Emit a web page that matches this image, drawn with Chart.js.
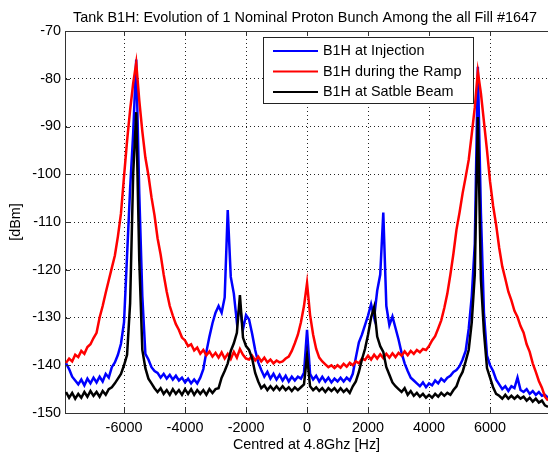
<!DOCTYPE html>
<html><head><meta charset="utf-8">
<script src="https://cdn.jsdelivr.net/npm/chart.js@4.4.1/dist/chart.umd.min.js"></script>
<style>html,body{margin:0;padding:0;background:#fff;overflow:hidden;}</style>
</head><body>
<canvas id="c" width="548" height="454"></canvas>
<script>
const chartTitle = "Tank B1H: Evolution of 1 Nominal Proton Bunch Among the all Fill #1647";
const xAxisTitle = "Centred at 4.8Ghz [Hz]";
const yAxisTitle = "[dBm]";
const seriesNames = ["B1H at Injection", "B1H during the Ramp", "B1H at Satble Beam"];
const seriesColors = ["#0000ff", "#ff0000", "#000000"];
const xTicks = [-6000, -4000, -2000, 0, 2000, 4000, 6000];
const yTicks = [-150, -140, -130, -120, -110, -100, -90, -80, -70];

const freqHz = [
 -7900,-7800,-7700,-7600,-7500,-7400,-7300,-7200,-7100,-7000,
 -6900,-6800,-6700,-6600,-6500,-6400,-6300,-6200,-6100,-6000,
 -5900,-5800,-5700,-5600,-5500,-5400,-5300,-5200,-5100,-5000,
 -4900,-4800,-4700,-4600,-4500,-4400,-4300,-4200,-4100,-4000,
 -3900,-3800,-3700,-3600,-3500,-3400,-3300,-3200,-3100,-3000,
 -2900,-2800,-2700,-2600,-2500,-2400,-2300,-2200,-2100,-2000,
 -1900,-1800,-1700,-1600,-1500,-1400,-1300,-1200,-1100,-1000,
 -900,-800,-700,-600,-500,-400,-300,-200,-100,0,
 100,200,300,400,500,600,700,800,900,1000,
 1100,1200,1300,1400,1500,1600,1700,1800,1900,2000,
 2100,2200,2300,2400,2500,2600,2700,2800,2900,3000,
 3100,3200,3300,3400,3500,3600,3700,3800,3900,4000,
 4100,4200,4300,4400,4500,4600,4700,4800,4900,5000,
 5100,5200,5300,5400,5500,5600,5700,5800,5900,6000,
 6100,6200,6300,6400,6500,6600,6700,6800,6900,7000,
 7100,7200,7300,7400,7500,7600,7700,7800,7900
];

const injection = [
 -139.6,-140.8,-142.4,-143.2,-144.0,-143.0,-144.2,-142.8,-143.8,-142.6,
 -143.6,-142.4,-143.4,-141.8,-142.6,-140.4,-139.4,-137.8,-135.5,-131.0,
 -117.0,-103.0,-91.5,-76.0,-104.0,-125.5,-137.6,-138.8,-140.4,-141.2,
 -141.6,-142.6,-141.8,-142.8,-142.0,-143.0,-142.2,-143.2,-142.6,-143.6,
 -142.8,-143.8,-143.0,-143.8,-142.6,-140.8,-137.2,-134.0,-131.2,-129.0,
 -127.6,-129.0,-125.8,-107.5,-121.5,-125.0,-131.0,-127.5,-132.5,-129.5,
 -130.4,-133.4,-136.8,-139.4,-141.0,-142.4,-141.4,-142.8,-141.8,-143.0,
 -142.0,-143.2,-142.2,-143.4,-142.4,-143.2,-142.4,-142.8,-141.6,-132.6,
 -141.8,-143.0,-142.2,-143.4,-142.4,-143.4,-142.6,-143.6,-142.8,-143.4,
 -142.6,-143.4,-142.6,-143.2,-141.8,-138.4,-135.2,-133.6,-131.6,-129.6,
 -127.2,-130.0,-124.4,-121.0,-108.0,-127.6,-131.6,-129.8,-132.2,-134.6,
 -137.4,-139.6,-141.2,-142.6,-143.2,-143.8,-144.4,-143.6,-144.6,-143.8,
 -144.2,-143.2,-143.8,-142.8,-143.4,-142.6,-142.2,-141.4,-141.0,-140.2,
 -138.8,-137.0,-132.4,-125.6,-114.5,-77.5,-108.0,-129.0,-138.0,-140.0,
 -141.2,-143.0,-144.0,-145.0,-144.4,-145.4,-144.4,-144.8,-142.6,-145.2,
 -145.6,-145.0,-146.0,-145.4,-146.2,-145.6,-146.4,-146.2,-146.8
];

const ramp = [
 -139.5,-138.6,-139.2,-137.8,-138.3,-137.0,-137.6,-136.2,-135.6,-134.3,
 -133.2,-130.0,-127.6,-124.8,-122.2,-119.6,-117.0,-113.0,-108.2,-100.5,
 -93.0,-86.5,-81.0,-76.7,-84.5,-91.0,-96.5,-100.2,-104.8,-108.6,
 -113.4,-116.8,-121.0,-124.6,-127.6,-129.6,-131.4,-132.6,-134.2,-134.8,
 -136.0,-135.6,-136.9,-136.3,-137.6,-136.8,-137.9,-137.1,-138.2,-137.4,
 -138.4,-137.3,-138.6,-137.6,-138.7,-137.2,-138.4,-136.6,-137.8,-138.6,
 -138.8,-138.0,-139.0,-138.2,-139.2,-138.4,-139.4,-138.8,-139.6,-139.0,
 -139.4,-139.2,-138.6,-138.2,-137.0,-135.4,-133.6,-131.0,-127.6,-122.8,
 -129.5,-133.6,-136.6,-138.4,-139.2,-139.8,-140.4,-140.0,-140.6,-140.0,
 -140.5,-139.7,-140.3,-139.5,-140.0,-139.2,-139.6,-138.6,-138.9,-138.0,
 -138.8,-137.8,-138.6,-137.7,-138.5,-137.6,-138.4,-137.5,-138.3,-137.4,
 -138.0,-137.1,-137.9,-137.0,-137.6,-136.8,-137.3,-136.6,-136.8,-136.0,
 -134.8,-133.9,-132.3,-130.6,-128.0,-125.0,-121.0,-116.6,-111.6,-108.0,
 -104.0,-100.6,-97.0,-91.6,-86.0,-78.5,-83.0,-89.0,-95.0,-101.5,
 -106.6,-110.6,-115.4,-119.3,-121.9,-124.6,-126.4,-128.6,-129.9,-131.8,
 -133.2,-135.6,-137.2,-139.6,-141.4,-143.3,-144.7,-146.6,-147.4
];

const stable = [
 -145.6,-146.8,-145.8,-147.0,-146.0,-146.8,-145.6,-146.6,-145.4,-146.4,
 -145.6,-146.6,-145.4,-146.2,-145.0,-144.6,-143.8,-142.8,-141.8,-140.0,
 -137.8,-127.0,-100.0,-87.0,-118.0,-136.8,-140.6,-142.8,-143.8,-144.8,
 -145.6,-144.8,-146.0,-145.2,-146.2,-145.0,-146.0,-145.2,-146.2,-145.0,
 -146.0,-145.0,-146.2,-145.2,-146.0,-145.2,-146.2,-145.0,-145.8,-145.0,
 -144.8,-142.6,-141.2,-139.6,-137.0,-135.4,-133.2,-125.3,-134.2,-136.0,
 -136.8,-138.6,-141.6,-143.4,-144.8,-144.2,-145.2,-144.4,-145.2,-144.4,
 -145.2,-144.4,-145.2,-144.6,-145.4,-144.6,-145.2,-144.6,-144.0,-138.0,
 -144.4,-145.2,-144.6,-145.4,-144.8,-145.6,-144.8,-145.4,-144.8,-145.6,
 -144.8,-145.6,-145.0,-145.8,-144.4,-143.4,-141.4,-138.8,-136.6,-133.6,
 -130.0,-127.8,-134.0,-136.0,-137.2,-140.4,-142.0,-143.6,-144.4,-145.0,
 -145.6,-144.8,-146.2,-145.4,-146.4,-145.8,-146.6,-146.0,-146.8,-146.2,
 -146.8,-146.0,-146.6,-145.8,-146.4,-145.8,-146.2,-145.2,-144.4,-142.6,
 -141.4,-139.2,-136.8,-131.0,-121.0,-88.0,-122.0,-133.0,-140.6,-142.6,
 -144.6,-146.0,-146.4,-147.0,-146.2,-147.0,-146.4,-147.0,-146.4,-147.0,
 -146.6,-147.4,-146.8,-147.6,-147.0,-147.8,-147.4,-148.4,-148.7
];

const FONT = '"Liberation Sans", Arial, Helvetica, sans-serif';
const FS = 14.4;
const seriesValues = [injection, ramp, stable];

const datasets = seriesValues.map((vals, i) => ({
  label: seriesNames[i],
  data: freqHz.map((f, k) => ({x: f, y: vals[k]})),
  borderColor: seriesColors[i],
  backgroundColor: seriesColors[i],
  borderWidth: 2.5,
  pointRadius: 0,
  tension: 0,
  fill: false,
  order: 2 - i
}));

const framePlugin = {
  id: 'matlabFrame',
  afterDraw(chart) {
    const {ctx, chartArea: a, scales} = chart;
    ctx.save();
    ctx.strokeStyle = '#333';
    ctx.lineWidth = 1;
    ctx.beginPath();
    ctx.moveTo(a.left, a.top + 0.5); ctx.lineTo(a.right, a.top + 0.5);
    xTicks.forEach(v => {
      const px = Math.round(scales.x.getPixelForValue(v)) + 0.5;
      ctx.moveTo(px, a.bottom); ctx.lineTo(px, a.bottom - 5);
      ctx.moveTo(px, a.top); ctx.lineTo(px, a.top + 5);
    });
    yTicks.forEach(v => {
      const py = Math.round(scales.y.getPixelForValue(v)) + 0.5;
      ctx.moveTo(a.left, py); ctx.lineTo(a.left + 5, py);
    });
    ctx.stroke();
    ctx.fillStyle = '#000';
    ctx.font = FS + 'px ' + FONT;
    ctx.textAlign = 'center';
    ctx.textBaseline = 'alphabetic';
    ctx.fillText(chartTitle, 305, 21.5);
    const x0 = 263.5, y0 = 37.5, w = 210, h = 66;
    ctx.fillStyle = '#fff';
    ctx.fillRect(x0, y0, w, h);
    ctx.strokeStyle = '#222';
    ctx.lineWidth = 1;
    ctx.strokeRect(x0, y0, w, h);
    ctx.textAlign = 'left';
    ctx.textBaseline = 'middle';
    chart.data.datasets.forEach((ds, i) => {
      const y = 51 + i * 20.5;
      ctx.strokeStyle = ds.borderColor;
      ctx.lineWidth = 2;
      ctx.beginPath(); ctx.moveTo(273, y); ctx.lineTo(318, y); ctx.stroke();
      ctx.fillStyle = '#000';
      ctx.fillText(ds.label, 323, y + 0.5);
    });
    ctx.restore();
  }
};

new Chart(document.getElementById('c'), {
  type: 'line',
  data: {datasets},
  options: {
    responsive: false,
    animation: false,
    devicePixelRatio: 1,
    layout: {padding: {top: 31, right: 0, bottom: 0, left: 0}},
    plugins: {legend: {display: false}, tooltip: {enabled: false}, title: {display: false}},
    scales: {
      x: {
        type: 'linear',
        min: -7935, max: 7900,
        afterBuildTicks: s => { s.ticks = xTicks.map(v => ({value: v})); },
        afterFit: s => { s.height = 41; },
        ticks: {font: {family: FONT, size: FS}, color: '#000', padding: 6, maxRotation: 0, autoSkip: false,
                callback: v => String(v)},
        grid: {color: '#222', lineWidth: 1, drawTicks: false},
        border: {display: true, color: '#333', width: 1, dash: [1, 3]},
        title: {display: true, text: xAxisTitle, font: {family: FONT, size: FS}, color: '#000', padding: {top: 0, bottom: 0}}
      },
      y: {
        type: 'linear',
        min: -150, max: -70,
        afterBuildTicks: s => { s.ticks = yTicks.map(v => ({value: v})); },
        afterFit: s => { s.width = 65; },
        ticks: {font: {family: FONT, size: FS}, color: '#000', padding: 4, callback: v => String(v)},
        grid: {color: '#222', lineWidth: 1, drawTicks: false},
        border: {display: true, color: '#333', width: 1, dash: [1, 3]},
        title: {display: true, text: yAxisTitle, font: {family: FONT, size: FS}, color: '#000', padding: {top: 7, bottom: 0}}
      }
    }
  },
  plugins: [framePlugin]
});
</script>
</body></html>
